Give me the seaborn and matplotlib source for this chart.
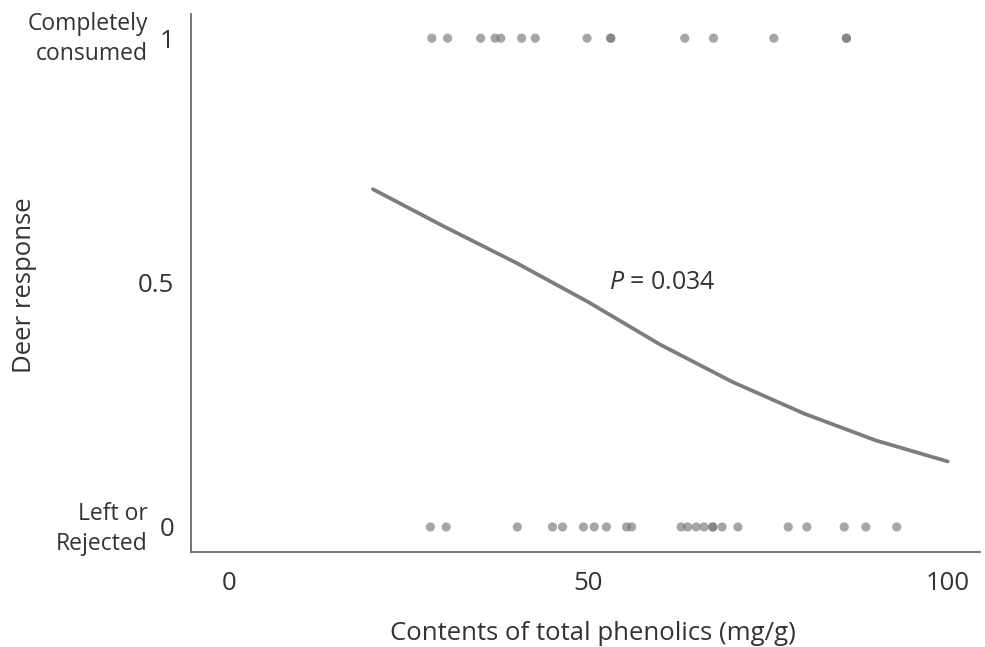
import matplotlib
matplotlib.use("Agg")
import matplotlib.pyplot as plt
import seaborn as sns
import pandas as pd
import numpy as np

# Data
consumed_x = [28.2, 30.4, 35.0, 37.0, 37.8, 40.7, 42.6, 49.8, 53.1, 53.1,
              63.4, 67.4, 75.8, 85.9, 85.9]
rejected_x = [28.0, 30.2, 40.1, 45.0, 46.4, 49.3, 50.8, 52.5, 55.3, 56.0,
              62.9, 63.8, 65.0, 66.1, 67.3, 67.3, 68.6, 70.8, 77.8, 80.4,
              85.6, 88.6, 92.9]
curve_x = [20, 30, 40, 50, 60, 70, 80, 90, 100]
curve_y = [0.691, 0.614, 0.540, 0.460, 0.373, 0.297, 0.232, 0.177, 0.134]
x_ticks = [0, 50, 100]
y_ticks = [0, 0.5, 1]
y_tick_labels = ["0", "0.5", "1"]

sns.set_style("white")
plt.rcParams['font.family'] = ['Open Sans', 'DejaVu Sans']
plt.rcParams['mathtext.fontset'] = 'custom'
plt.rcParams['mathtext.it'] = 'Open Sans:italic'

pts = pd.DataFrame({
    "x": consumed_x + rejected_x,
    "y": [1] * len(consumed_x) + [0] * len(rejected_x),
})
curve = pd.DataFrame({"x": curve_x, "y": curve_y})

fig = plt.figure(figsize=(9.85, 6.47), dpi=100)
ax = fig.add_axes([0.194, 0.147, 0.801, 0.831])

sns.scatterplot(data=pts, x="x", y="y", ax=ax, color="#777777", alpha=0.65,
                s=44, edgecolor="none", linewidth=0)
sns.lineplot(data=curve, x="x", y="y", ax=ax, color="#7d7d7d", linewidth=2.7)

ax.set_xlim(-5.3, 104.5)
ax.set_ylim(-0.051, 1.049)
ax.set_xticks(x_ticks)
ax.set_xticklabels([str(t) for t in x_ticks])
ax.set_yticks(y_ticks)
ax.set_yticklabels(y_tick_labels)

for side in ["top", "right"]:
    ax.spines[side].set_visible(False)
for side in ["left", "bottom"]:
    ax.spines[side].set_color("#6b6b6b")
    ax.spines[side].set_linewidth(1.3)

ax.tick_params(axis="both", which="major", direction="out", length=6,
               width=0.9, color="#7a7a7a", labelsize=18.5, labelcolor="#333333")
ax.tick_params(axis="x", pad=8)
ax.tick_params(axis="y", pad=6)

ax.set_xlabel("Contents of total phenolics (mg/g)", fontsize=18.5,
              color="#333333")
ax.xaxis.set_label_coords((593 - 191) / 789, -(634 - 552) / 538)
ax.xaxis.label.set_va("center")
ax.set_ylabel("Deer response", fontsize=18.5, color="#333333")
ax.yaxis.set_label_coords((24 - 191) / 789, (552 - 285) / 538)
ax.yaxis.label.set_va("center")

ax.text(52.8, 0.5, "$\\mathit{P}$ = 0.034", fontsize=18, color="#333333",
        ha="left", va="center")

fig.text(148 / 985, 1 - 39 / 647, "Completely\nconsumed", ha="right",
         va="center", fontsize=16.5, color="#333333", linespacing=1.3)
fig.text(148 / 985, 1 - 529 / 647, "Left or\nRejected", ha="right",
         va="center", fontsize=16.5, color="#333333", linespacing=1.3)

fig.savefig("out.png", dpi=100)
